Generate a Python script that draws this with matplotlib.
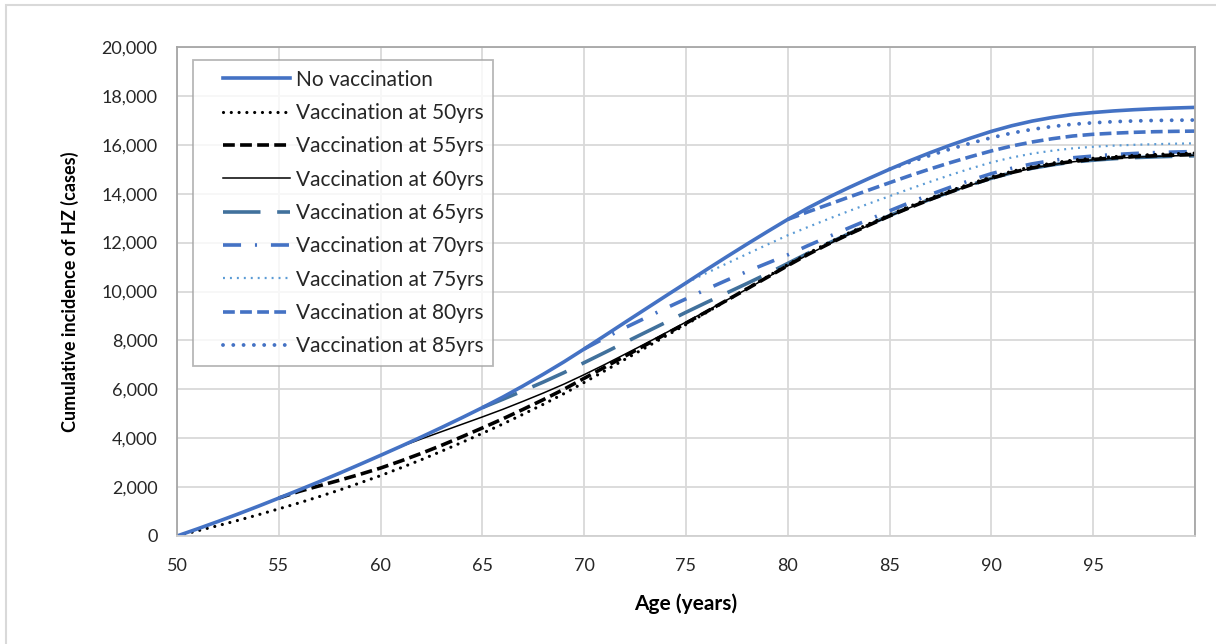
import matplotlib
matplotlib.use("Agg")
import matplotlib.pyplot as plt
from matplotlib.patches import Rectangle
from matplotlib.ticker import FuncFormatter
from matplotlib.legend_handler import HandlerLine2D

plt.rcParams['font.family'] = ['Lato', 'DejaVu Sans']
plt.rcParams['lines.scale_dashes'] = False

ages = list(range(50, 101))

no_vacc = [0, 290, 590, 900, 1220, 1550, 1885, 2225, 2575, 2935,
           3300, 3670, 4050, 4440, 4840, 5250, 5680, 6140, 6620, 7120,
           7650, 8190, 8735, 9275, 9815, 10350, 10890, 11420, 11940, 12450,
           12950, 13420, 13850, 14250, 14630, 15000, 15350, 15680, 15990, 16280,
           16550, 16780, 16970, 17120, 17240, 17320, 17385, 17435, 17475, 17505,
           17530]

# each vaccination series starts at its vaccination age and runs to age 100
vacc_50 = [0, 210, 420, 640, 870, 1110, 1355, 1615, 1885, 2175,
           2470, 2790, 3120, 3470, 3830, 4200, 4580, 4980, 5390, 5820,
           6280, 6750, 7225, 7695, 8175, 8650, 9140, 9630, 10120, 10610,
           11100, 11565, 11995, 12395, 12775, 13140, 13490, 13820, 14130, 14420,
           14685, 14915, 15105, 15255, 15375, 15450, 15515, 15565, 15605, 15635,
           15660]
vacc_55 = [1550, 1825, 2055, 2285, 2525,
           2780, 3070, 3380, 3710, 4060, 4420, 4790, 5180, 5580, 6000,
           6450, 6900, 7355, 7805, 8255, 8705, 9170, 9640, 10110, 10585,
           11060, 11520, 11945, 12340, 12720, 13090, 13435, 13765, 14075, 14365,
           14635, 14865, 15055, 15200, 15320, 15400, 15465, 15515, 15550, 15580,
           15605]
vacc_60 = [3300, 3660, 3970, 4270, 4570, 4870, 5180, 5510, 5850, 6210,
           6600, 7010, 7435, 7865, 8305, 8750, 9200, 9650, 10100, 10580,
           11050, 11510, 11935, 12335, 12710, 13080, 13430, 13760, 14070, 14355,
           14625, 14855, 15040, 15190, 15305, 15385, 15445, 15490, 15525, 15550,
           15570]
vacc_65 = [5250, 5590, 5940, 6300, 6680,
           7090, 7500, 7915, 8325, 8735, 9150, 9550, 9940, 10330, 10730,
           11150, 11570, 11975, 12365, 12740, 13105, 13450, 13775, 14080, 14365,
           14630, 14855, 15040, 15180, 15295, 15370, 15430, 15475, 15505, 15530,
           15550]
vacc_70 = [7650, 8090, 8515, 8915, 9315, 9700, 10090, 10460, 10820, 11160,
           11500, 11880, 12240, 12600, 12950, 13300, 13640, 13965, 14270, 14555,
           14820, 15040, 15220, 15360, 15470, 15540, 15600, 15645, 15680, 15705,
           15725]
vacc_75 = [10350, 10750, 11145, 11535, 11920,
           12300, 12640, 12970, 13290, 13600, 13900, 14200, 14490, 14770, 15035,
           15280, 15480, 15640, 15760, 15855, 15920, 15965, 16000, 16025, 16045,
           16060]
vacc_80 = [12950, 13260, 13560, 13860, 14155, 14450, 14740, 15015, 15275, 15520,
           15750, 15950, 16115, 16250, 16360, 16430, 16475, 16510, 16535, 16550,
           16560]
vacc_85 = [15000, 15290, 15570, 15830, 16070,
           16290, 16480, 16630, 16750, 16840, 16900, 16945, 16975, 16995, 17005,
           17012]

labels = ["No vaccination", "Vaccination at 50yrs", "Vaccination at 55yrs",
          "Vaccination at 60yrs", "Vaccination at 65yrs", "Vaccination at 70yrs",
          "Vaccination at 75yrs", "Vaccination at 80yrs", "Vaccination at 85yrs"]
series = [no_vacc, vacc_50, vacc_55, vacc_60, vacc_65, vacc_70, vacc_75, vacc_80, vacc_85]

styles = [
    dict(color='#4472C4', lw=2.6, ls='-'),
    dict(color='black', lw=2.3, ls=(0, (0.01, 5.6)), dash_capstyle='round'),
    dict(color='black', lw=2.6, ls=(0, (8.5, 3.8))),
    dict(color='black', lw=1.1, ls='-'),
    dict(color='#41719C', lw=2.6, ls=(0, (27, 12))),
    dict(color='#4472C4', lw=2.6, ls=(0, (13, 10, 1.5, 10))),
    dict(color='#5B9BD5', lw=1.6, ls=(0, (1.4, 3.6))),
    dict(color='#4472C4', lw=2.6, ls=(0, (8.5, 3.8))),
    dict(color='#4472C4', lw=2.8, ls=(0, (0.01, 7.4)), dash_capstyle='round'),
]

fig = plt.figure(figsize=(12.16, 6.44), dpi=100)
fig.patches.append(Rectangle((6/1216, -0.1), 1.2, 1 - 5/644 + 0.1,
                             transform=fig.transFigure, fill=False,
                             edgecolor='#D9D9D9', lw=1.5, zorder=0))
ax = fig.add_axes([177/1216, 108/644, 1018/1216, 489/644])

handles = [None] * 9
for i in [8, 7, 6, 5, 4, 3, 2, 1, 0]:
    y = series[i]
    x = ages[len(ages) - len(y):]
    ln, = ax.plot(x, y, label=labels[i], **styles[i])
    handles[i] = ln

ax.set_xlim(50, 100)
ax.set_ylim(0, 20000)
ax.set_xticks([50, 55, 60, 65, 70, 75, 80, 85, 90, 95, 100])
ax.set_xticklabels(['50', '55', '60', '65', '70', '75', '80', '85', '90', '95', ''])
ax.set_yticks(range(0, 20001, 2000))
ax.yaxis.set_major_formatter(FuncFormatter(lambda v, p: f"{int(v):,}"))
ax.tick_params(length=0, labelsize=13, colors='#262626', pad=14)
ax.tick_params(axis='x', pad=16)
ax.grid(True, color='#D9D9D9', lw=1.3)
ax.set_axisbelow(True)
for s in ['left', 'top', 'right']:
    ax.spines[s].set_color('#A6A6A6')
    ax.spines[s].set_linewidth(1.3)
ax.spines['bottom'].set_color('#D0D0D0')
ax.spines['bottom'].set_linewidth(1.3)

ax.set_xlabel('Age (years)', fontsize=15, fontweight='bold', labelpad=14)
ax.set_ylabel('Cumulative incidence of HZ (cases)', fontsize=13, fontweight='bold', labelpad=16)

hmap = {h: HandlerLine2D(xpad=1.0) for h in handles}
leg = ax.legend(handles=handles, loc='upper left', bbox_to_anchor=(0.0157, 0.973),
                borderaxespad=0, fontsize=15, handlelength=4.2, handletextpad=0.3,
                labelspacing=0.64, frameon=True, fancybox=False, borderpad=0.45,
                handler_map=hmap)
leg.get_frame().set_edgecolor('#A6A6A6')
leg.get_frame().set_linewidth(1.3)
for t in leg.get_texts():
    t.set_color('#262626')

fig.savefig('out.png', dpi=100)
